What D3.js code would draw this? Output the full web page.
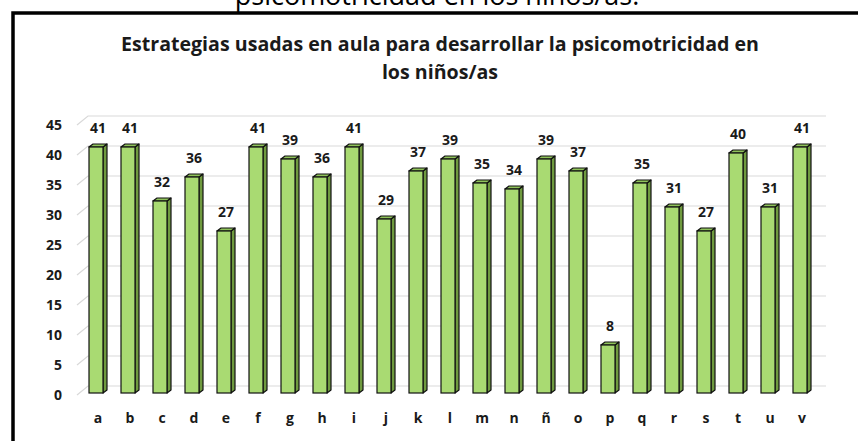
<!DOCTYPE html>
<html>
<head>
<meta charset="utf-8">
<script src="https://cdn.jsdelivr.net/npm/d3@7"></script>
<style>
  body { margin: 0; background: #fff; }
  text { font-family: "Open Sans", sans-serif; }
</style>
</head>
<body>
<script>
var width = 858, height = 441;

var categories = ["a","b","c","d","e","f","g","h","i","j","k","l","m","n","ñ","o","p","q","r","s","t","u","v"];
var values = [41,41,32,36,27,41,39,36,41,29,37,39,35,34,39,37,8,35,31,27,40,31,41];
var yTicks = [0,5,10,15,20,25,30,35,40,45];

var svg = d3.select("body").append("svg")
    .attr("width", width)
    .attr("height", height);

// cut-off caption from the page above
svg.append("text")
    .attr("x", 437).attr("y", 5)
    .attr("text-anchor", "middle")
    .attr("font-size", "27px")
    .attr("fill", "#000")
    .text("psicomotricidad en los niños/as.");

// frame
svg.append("path")
    .attr("d", "M13,441 V13 H858")
    .attr("fill", "none")
    .attr("stroke", "#000")
    .attr("stroke-width", 3.5);

// title
var title = svg.append("text")
    .attr("text-anchor", "middle")
    .attr("font-weight", "bold")
    .attr("font-size", "19.6px")
    .attr("fill", "#1a1a1a");
title.append("tspan").attr("x", 440).attr("y", 51).text("Estrategias usadas en aula para desarrollar la psicomotricidad  en");
title.append("tspan").attr("x", 440).attr("y", 79).text("los niños/as");

var x = d3.scaleBand().domain(categories).range([80, 816]);
var y = d3.scaleLinear().domain([0, 45]).range([393, 123]);

// 3d offsets
var wallDx = 11, wallDy = -9;
var barDx = 4, barDy = -3;
var faceW = 14;

// gridlines on the back wall with the diagonal floor/side edge
var grid = svg.append("g");
yTicks.forEach(function(t) {
  var yf = y(t) + 2;
  grid.append("path")
      .attr("d", "M77," + yf + " L" + (77 + wallDx) + "," + (yf + wallDy) + " H826")
      .attr("fill", "none")
      .attr("stroke", "#d9d9d9")
      .attr("stroke-width", 1.2);
});

// y tick labels
svg.append("g").selectAll("text")
    .data(yTicks).join("text")
    .attr("x", 62)
    .attr("y", function(d) { return y(d) + 2; })
    .attr("dy", "0.35em")
    .attr("text-anchor", "end")
    .attr("font-size", "14px")
    .attr("font-weight", "bold")
    .attr("fill", "#1a1a1a")
    .text(function(d) { return d; });

// bars
var bars = svg.append("g").selectAll("g")
    .data(values).join("g")
    .attr("transform", function(d, i) {
      return "translate(" + (x(categories[i]) + x.bandwidth() / 2 - faceW / 2) + ",0)";
    });

// side face
bars.append("path")
    .attr("d", function(d) {
      var top = y(d), bot = y(0);
      return "M" + faceW + "," + top + " L" + (faceW + barDx) + "," + (top + barDy) +
             " V" + (bot + barDy) + " L" + faceW + "," + bot + "Z";
    })
    .attr("fill", "#6f9a3f")
    .attr("stroke", "#111")
    .attr("stroke-width", 1.2)
    .attr("stroke-linejoin", "round");

// top face
bars.append("path")
    .attr("d", function(d) {
      var top = y(d);
      return "M0," + top + " L" + barDx + "," + (top + barDy) + " H" + (faceW + barDx) +
             " L" + faceW + "," + top + "Z";
    })
    .attr("fill", "#8fc25a")
    .attr("stroke", "#111")
    .attr("stroke-width", 1.2)
    .attr("stroke-linejoin", "round");

// front face
bars.append("rect")
    .attr("x", 0)
    .attr("y", function(d) { return y(d); })
    .attr("width", faceW)
    .attr("height", function(d) { return y(0) - y(d); })
    .attr("fill", "#a9da72")
    .attr("stroke", "#111")
    .attr("stroke-width", 1.2);

// value labels
bars.append("text")
    .attr("x", faceW / 2 + 2)
    .attr("y", function(d) { return y(d) - 14; })
    .attr("text-anchor", "middle")
    .attr("font-size", "14px")
    .attr("font-weight", "bold")
    .attr("fill", "#1a1a1a")
    .text(function(d) { return d; });

// category labels
svg.append("g").selectAll("text")
    .data(categories).join("text")
    .attr("x", function(d) { return x(d) + x.bandwidth() / 2 + 2; })
    .attr("y", 418)
    .attr("dy", "0.35em")
    .attr("text-anchor", "middle")
    .attr("font-size", "14px")
    .attr("font-weight", "bold")
    .attr("fill", "#1a1a1a")
    .text(function(d) { return d; });
</script>
</body>
</html>
